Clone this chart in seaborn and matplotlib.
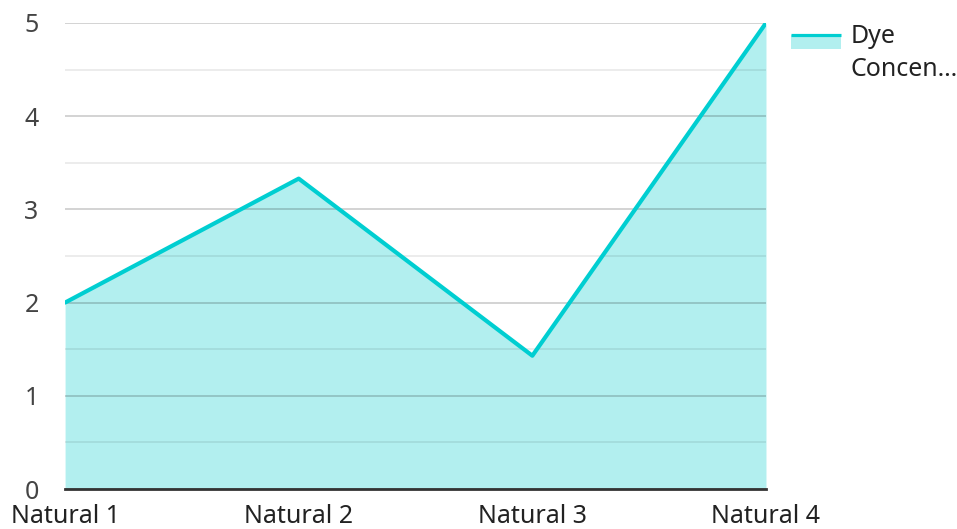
import pandas as pd
import matplotlib.pyplot as plt
import seaborn as sns
from matplotlib.patches import Patch, Rectangle
from matplotlib.lines import Line2D
from matplotlib.legend_handler import HandlerBase

# Data
categories = ["Natural 1", "Natural 2", "Natural 3", "Natural 4"]
dye_concentration = [2.0, 3.33, 1.43, 5.0]

df = pd.DataFrame({"sample": categories, "value": dye_concentration})
df["pos"] = range(len(df))

line_color = "#00CED1"
fill_color = "#B2EFEF"


class AreaHandler(HandlerBase):
    # filled box with the line along its top edge, lifted to sit beside the first text line
    def legend_artist(self, legend, orig_handle, fontsize, handlebox):
        w, h = handlebox.width, handlebox.height
        x0, y0 = -handlebox.xdescent, -handlebox.ydescent
        lift = 8.5
        box = Rectangle((x0, y0 + lift), w, h, facecolor=fill_color, lw=0, zorder=1)
        top = Line2D([x0, x0 + w], [y0 + lift + h, y0 + lift + h], color=line_color,
                     lw=2.3, solid_capstyle="butt", zorder=2)
        handlebox.add_artist(box)
        handlebox.add_artist(top)
        return box


sns.set_style("white")
plt.rcParams["font.family"] = ["Noto Sans", "DejaVu Sans"]

fig = plt.figure(figsize=(9.57, 5.29), dpi=100)
ax = fig.add_axes([0.068, 0.0756, 0.7324, 0.881])

ax.fill_between(df["pos"], df["value"], color=fill_color, lw=0, zorder=1)
sns.lineplot(data=df, x="pos", y="value", color=line_color, lw=3, ax=ax, zorder=3)

ax.set_xlim(0, 3)
ax.set_ylim(0, 5)
ax.set_xticks(df["pos"], categories)
ax.set_yticks([0, 1, 2, 3, 4, 5])
ax.set_yticks([0.5, 1.5, 2.5, 3.5, 4.5], minor=True)
ax.grid(axis="y", which="major", color="black", alpha=0.2, lw=1.2, zorder=2)
ax.grid(axis="y", which="minor", color="black", alpha=0.09, lw=1.2, zorder=2)
ax.set_axisbelow(False)
ax.set_xlabel("")
ax.set_ylabel("")

for s in ["top", "right", "left"]:
    ax.spines[s].set_visible(False)
ax.spines["bottom"].set_color("#333333")
ax.spines["bottom"].set_linewidth(2)
ax.spines["bottom"].set_zorder(4)

ax.tick_params(axis="y", which="both", length=0, pad=19, labelsize=18, labelcolor="#444444")
ax.tick_params(axis="x", length=0, pad=11, labelsize=18, labelcolor="#222222")

area_handle = Patch(facecolor=fill_color)
leg = ax.legend([area_handle], ["Dye\nConcen…"], handler_map={area_handle: AreaHandler()},
                loc="upper left", bbox_to_anchor=(791 / 957, 1 - 24 / 529),
                bbox_transform=fig.transFigure, frameon=False, fontsize=18,
                borderpad=0, borderaxespad=0, handlelength=2.0, handleheight=0.52,
                handletextpad=0.4, labelcolor="#222222")
for t in leg.get_texts():
    t.set_linespacing(1.43)

fig.savefig("out.png", dpi=100)
